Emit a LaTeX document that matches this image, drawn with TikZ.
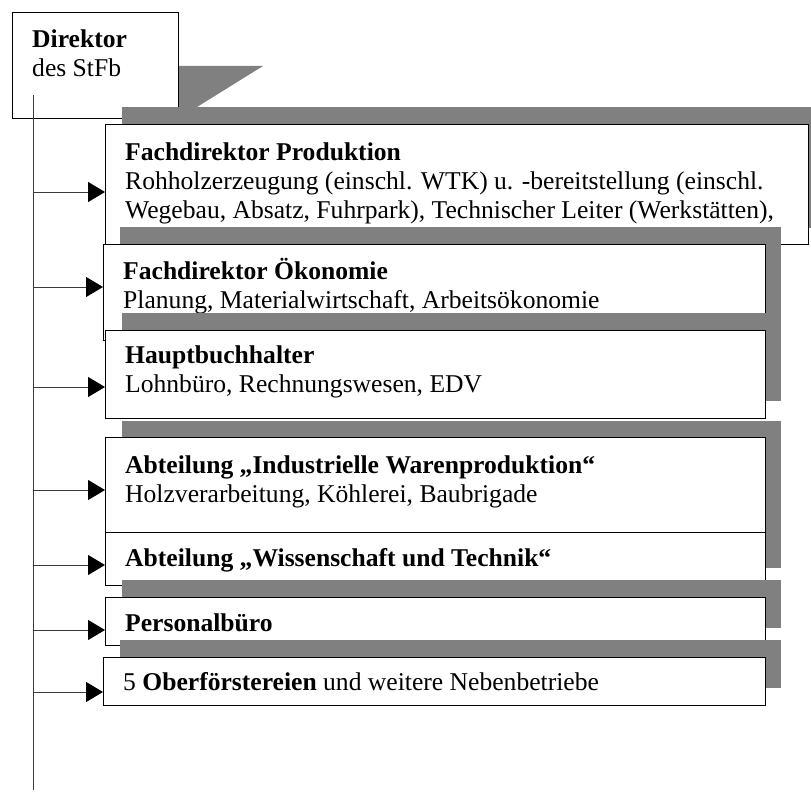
\documentclass[tikz,border=0pt]{standalone}
\usepackage{fontspec}
\setmainfont{Liberation Serif}
\usetikzlibrary{arrows.meta}
\definecolor{shadowgray}{HTML}{808080}
\definecolor{linegray}{HTML}{3A3A3A}
\begin{document}
\begin{tikzpicture}[x=1pt,y=-1pt,
  shadowfill/.style={fill=shadowgray},
  orgbox/.style={draw=black, fill=white, line width=1pt, rectangle,
    inner sep=0pt, anchor=north west},
  txt/.style={anchor=base west, inner sep=0pt, text=black,
    font=\fontsize{25.6}{29}\selectfont},
  trunk/.style={draw=linegray, line width=1pt},
  feed/.style={draw=linegray, line width=0.9pt,
    -{Triangle[length=17pt,width=20pt,color=black]}, shorten >=0pt}]
\useasboundingbox (0,0) rectangle (811,792);

% director box with its wedge-shaped shadow
\fill[shadowfill] (178,66) -- (263,66) -- (197,107) -- (178,107) -- cycle;
\node[orgbox, minimum width=166pt, minimum height=106pt] (dir) at (12,12) {};
\node[txt] (dirA) at (32,48) {\bfseries Direktor};
\node[txt] (dirB) at (32,77) {des StFb};

% vertical trunk line
\coordinate (top) at (33.5,95);
\coordinate (bot) at (33.5,790);
\draw[trunk] (top) -- (bot);

% Fachdirektor Produktion
\fill[shadowfill] (122,107) rectangle (826,228);
\node[orgbox, minimum width=703pt, minimum height=120pt] (prod) at (105,124) {};
\node[txt] (prodA) at (125,160) {\bfseries Fachdirektor Produktion};
\node[txt] (prodB) at (125,189) {Rohholzerzeugung (einschl. WTK) u. -bereitstellung (einschl.};
\node[txt] (prodC) at (125,218) {Wegebau, Absatz, Fuhrpark), Technischer Leiter (Werkstätten),};

% Fachdirektor Ökonomie
\fill[shadowfill] (120,227) rectangle (781,323);
\node[orgbox, minimum width=662pt, minimum height=96pt] (oek) at (103,244) {};
\node[txt] (oekA) at (123,279) {\bfseries Fachdirektor Ökonomie};
\node[txt] (oekB) at (123,308) {Planung, Materialwirtschaft, Arbeitsökonomie};

% Hauptbuchhalter
\fill[shadowfill] (122,313) rectangle (781,401);
\node[orgbox, minimum width=660pt, minimum height=88pt] (hbh) at (105,330) {};
\node[txt] (hbhA) at (125,363) {\bfseries Hauptbuchhalter};
\node[txt] (hbhB) at (125,392) {Lohnbüro, Rechnungswesen, EDV};

% Industrielle Warenproduktion / Wissenschaft und Technik
\fill[shadowfill] (122,421) rectangle (781,515);
\fill[shadowfill] (122,515) rectangle (781,568);
\node[orgbox, minimum width=660pt, minimum height=95pt] (iwp) at (105,437) {};
\node[txt] (iwpA) at (125,473) {\bfseries Abteilung „Industrielle Warenproduktion“};
\node[txt] (iwpB) at (125,502) {Holzverarbeitung, Köhlerei, Baubrigade};
\node[orgbox, minimum width=660pt, minimum height=53pt] (wut) at (105,532) {};
\node[txt] (wutA) at (125,566) {\bfseries Abteilung „Wissenschaft und Technik“};

% Personalbüro
\fill[shadowfill] (122,580) rectangle (781,628);
\node[orgbox, minimum width=660pt, minimum height=48pt] (pers) at (105,597) {};
\node[txt] (persA) at (125,631) {\bfseries Personalbüro};

% Oberförstereien
\fill[shadowfill] (120,640) rectangle (781,688);
\node[orgbox, minimum width=662pt, minimum height=48pt] (obf) at (103,657) {};
\node[txt] (obfA) at (123,690) {5 \textbf{Oberförstereien} und weitere Nebenbetriebe};

% feeders from the trunk to each unit
\coordinate (f1) at (33.5,192);
\coordinate (f2) at (33.5,287);
\coordinate (f3) at (33.5,387);
\coordinate (f4) at (33.5,490);
\coordinate (f5) at (33.5,565);
\coordinate (f6) at (33.5,630);
\coordinate (f7) at (33.5,692);
\draw[feed] (f1) -- (f1 -| prod.west);
\draw[feed] (f2) -- (f2 -| oek.west);
\draw[feed] (f3) -- (f3 -| hbh.west);
\draw[feed] (f4) -- (f4 -| iwp.west);
\draw[feed] (f5) -- (f5 -| wut.west);
\draw[feed] (f6) -- (f6 -| pers.west);
\draw[feed] (f7) -- (f7 -| obf.west);
\end{tikzpicture}
\end{document}
